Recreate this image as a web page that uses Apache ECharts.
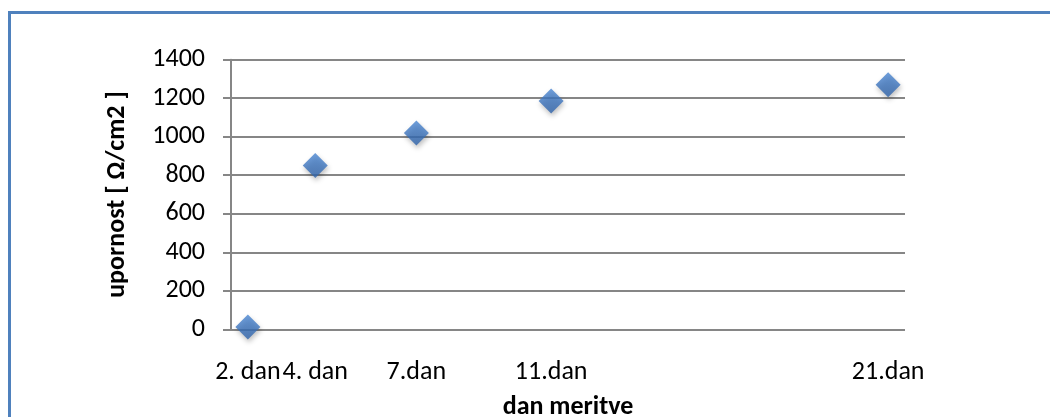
<!DOCTYPE html>
<html>
<head>
<meta charset="utf-8">
<script src="https://cdn.jsdelivr.net/npm/echarts@6/dist/echarts.min.js"></script>
<style>
  html, body { margin: 0; padding: 0; background: #fff; }
  #chart { width: 1050px; height: 417px; }
</style>
</head>
<body>
<div id="chart"></div>
<script>
// Measurement days and their axis captions
const days = [2, 4, 7, 11, 21];
const dayLabels = ['2. dan', '4. dan', '7.dan', '11.dan', '21.dan'];
// Resistance per day [Ω/cm2]
const upornost = [12, 850, 1020, 1185, 1270];
// Value axis ticks
const yTicks = [0, 200, 400, 600, 800, 1000, 1200, 1400];

const FONT = 'Carlito, Calibri, Lato, sans-serif';
const chart = echarts.init(document.getElementById('chart'), null, { renderer: 'canvas' });

const labelFor = {};
days.forEach((d, i) => { labelFor[d] = dayLabels[i]; });

chart.setOption({
  animation: false,
  backgroundColor: '#ffffff',
  graphic: [{
    type: 'rect',
    shape: { x: 9.5, y: 12.5, width: 1100, height: 500 },
    style: { fill: 'none', stroke: '#4f81bd', lineWidth: 3 },
    z: 0
  }],
  grid: { left: 231, right: 145, top: 59.7, bottom: 87.7, outerBoundsMode: 'none', containLabel: false },
  xAxis: {
    type: 'value',
    min: 1.5,
    max: 21.5,
    name: 'dan meritve',
    nameLocation: 'middle',
    nameGap: 65,
    nameTextStyle: { fontFamily: FONT, fontSize: 26, fontWeight: 'bold', color: '#000' },
    axisLine: { show: false },
    axisTick: { show: false },
    splitLine: { show: false },
    axisLabel: {
      customValues: days,
      formatter: v => labelFor[v] || '',
      hideOverlap: false,
      margin: 30,
      fontFamily: FONT,
      fontSize: 26,
      color: '#000'
    }
  },
  yAxis: {
    type: 'value',
    min: yTicks[0],
    max: yTicks[yTicks.length - 1],
    interval: 200,
    name: 'upornost [ Ω/cm2 ]',
    nameLocation: 'middle',
    nameGap: 101,
    nameRotate: 90,
    nameTextStyle: { fontFamily: FONT, fontSize: 26, fontWeight: 'bold', color: '#000' },
    axisLine: { show: true, lineStyle: { color: '#868686', width: 2 } },
    axisTick: { show: true, length: 8, lineStyle: { color: '#868686', width: 2 } },
    splitLine: { show: true, lineStyle: { color: '#868686', width: 2 } },
    axisLabel: {
      margin: 26,
      formatter: v => String(v),
      fontFamily: FONT,
      fontSize: 26,
      color: '#000'
    }
  },
  series: [{
    type: 'scatter',
    data: days.map((d, i) => [d, upornost[i]]),
    symbol: 'diamond',
    symbolSize: [25, 25],
    itemStyle: {
      color: new echarts.graphic.LinearGradient(0, 0, 0, 1, [
        { offset: 0, color: '#4a86d2' },
        { offset: 1, color: '#2f63aa' }
      ]),
      shadowColor: 'rgba(0,0,0,0.3)',
      shadowBlur: 5,
      shadowOffsetX: 1,
      shadowOffsetY: 3
    },
    z: 5
  }]
});
</script>
</body>
</html>
